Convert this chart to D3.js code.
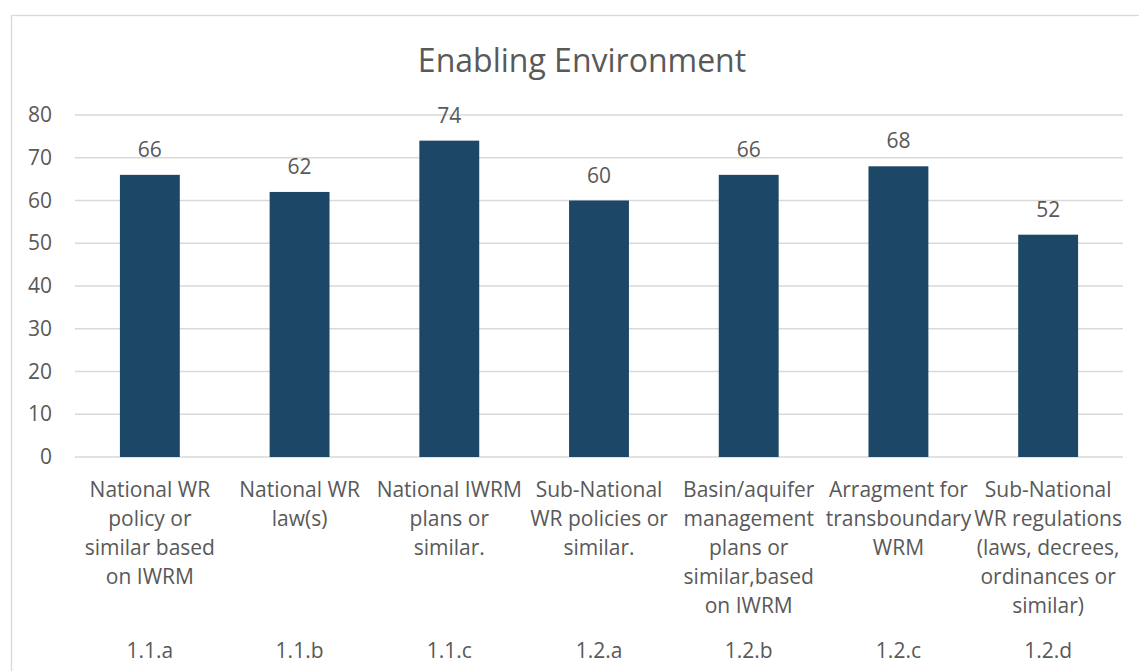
<!DOCTYPE html>
<meta charset="utf-8">
<script src="https://d3js.org/d3.v7.min.js"></script>
<style>
  body { margin: 0; background: #fff; }
  text { font-family: "Open Sans", sans-serif; fill: #595959; }
</style>
<div id="my_dataviz"></div>
<script>

// data
var codes = ["1.1.a", "1.1.b", "1.1.c", "1.2.a", "1.2.b", "1.2.c", "1.2.d"]
var labels = [
  ["National WR", "policy or", "similar based", "on IWRM"],
  ["National WR", "law(s)"],
  ["National IWRM", "plans or", "similar."],
  ["Sub-National", "WR policies or", "similar."],
  ["Basin/aquifer", "management", "plans or", "similar,based", "on IWRM"],
  ["Arragment for", "transboundary", "WRM"],
  ["Sub-National", "WR regulations", "(laws, decrees,", "ordinances or", "similar)"]
]
var values = [66, 62, 74, 60, 66, 68, 52]
var yTicks = [0, 10, 20, 30, 40, 50, 60, 70, 80]

var W = 1139, H = 671
var margin = {top: 115, right: 16, bottom: 214, left: 75}
var width = W - margin.left - margin.right,
    height = H - margin.top - margin.bottom
var fs = "21px"

var root = d3.select("#my_dataviz").append("svg")
  .attr("width", W)
  .attr("height", H)

// chart border (cut off at right and bottom)
root.append("rect")
  .attr("x", 11.5).attr("y", 15.5)
  .attr("width", W + 20).attr("height", H + 20)
  .attr("fill", "none")
  .attr("stroke", "#d9d9d9")
  .attr("stroke-width", 1.3)

root.append("text")
  .attr("x", 582).attr("y", 72)
  .attr("text-anchor", "middle")
  .style("font-size", "32px")
  .text("Enabling Environment")

var svg = root.append("g")
  .attr("transform", "translate(" + margin.left + "," + margin.top + ")")

var x = d3.scaleBand()
  .domain(codes)
  .range([0, width])
  .paddingInner(0.6)
  .paddingOuter(0.3)

var y = d3.scaleLinear()
  .domain([0, 80])
  .range([height, 0])

// gridlines
svg.selectAll("line.grid")
  .data(yTicks)
  .enter()
  .append("line")
    .attr("class", "grid")
    .attr("x1", 0)
    .attr("x2", width)
    .attr("y1", function(d){ return y(d) })
    .attr("y2", function(d){ return y(d) })
    .attr("stroke", "#d9d9d9")
    .attr("stroke-width", 1.3)

// y axis labels
var yAxis = svg.append("g")
  .call(d3.axisLeft(y).tickValues(yTicks).tickSize(0).tickPadding(23))
yAxis.select(".domain").remove()
yAxis.selectAll("text")
  .style("font-size", fs)
  .attr("fill", "#595959")
  .attr("font-family", null)

// bars
svg.selectAll("rect.bar")
  .data(values)
  .enter()
  .append("rect")
    .attr("class", "bar")
    .attr("x", function(d, i){ return x(codes[i]) })
    .attr("y", function(d){ return y(d) })
    .attr("width", x.bandwidth())
    .attr("height", function(d){ return height - y(d) })
    .attr("fill", "#1c4766")

// value labels
svg.selectAll("text.val")
  .data(values)
  .enter()
  .append("text")
    .attr("class", "val")
    .attr("x", function(d, i){ return x(codes[i]) + x.bandwidth() / 2 })
    .attr("y", function(d){ return y(d) - 18 })
    .attr("text-anchor", "middle")
    .style("font-size", fs)
    .text(function(d){ return d })

// category labels
svg.selectAll("g.cat")
  .data(labels)
  .enter()
  .append("g")
    .attr("class", "cat")
    .attr("transform", function(d, i){
      return "translate(" + (x(codes[i]) + x.bandwidth() / 2) + "," + (height + 40) + ")"
    })
  .each(function(lines){
    d3.select(this).selectAll("text")
      .data(lines)
      .enter()
      .append("text")
        .attr("y", function(d, j){ return j * 29 })
        .attr("text-anchor", "middle")
        .style("font-size", fs)
        .text(function(d){ return d })
  })

// code labels
svg.selectAll("text.code")
  .data(codes)
  .enter()
  .append("text")
    .attr("class", "code")
    .attr("x", function(d){ return x(d) + x.bandwidth() / 2 })
    .attr("y", height + 201)
    .attr("text-anchor", "middle")
    .style("font-size", fs)
    .text(function(d){ return d })

</script>
